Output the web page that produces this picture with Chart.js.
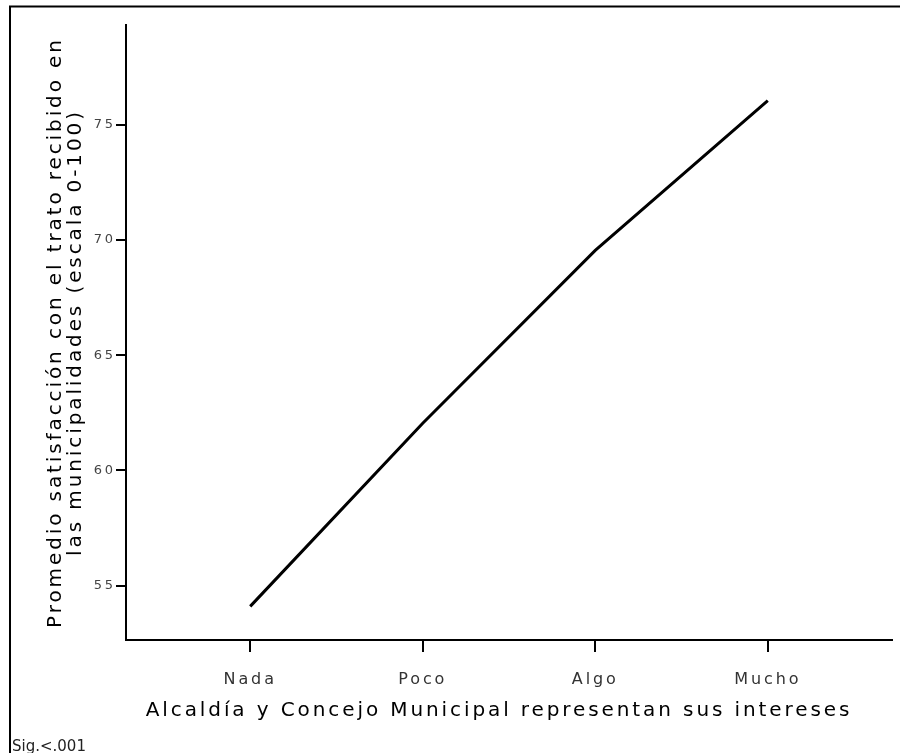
<!DOCTYPE html>
<html>
<head>
<meta charset="utf-8">
<script src="https://cdn.jsdelivr.net/npm/chart.js@4/dist/chart.umd.min.js"></script>
<style>
  html, body { margin: 0; padding: 0; background: #fff; }
  #wrap { width: 900px; height: 753px; }
</style>
</head>
<body>
<div id="wrap"><canvas id="chart" width="900" height="753"></canvas></div>
<script>
// Chart data
const categories = ['Nada', 'Poco', 'Algo', 'Mucho'];
const satisfaction = [54.1, 62.05, 69.55, 76.05];
const yTicks = [55, 60, 65, 70, 75];
const xTitle = 'Alcaldía y Concejo Municipal representan sus intereses';
const yTitle = ['Promedio satisfacción con el trato recibido en', 'las municipalidades (escala 0-100)'];
const footNote = 'Sig.<.001';

const FONT = '"DejaVu Sans", Verdana, sans-serif';

// Frame, spaced lettering, x title (centred on the figure, not the axis) and footnote
const framePlugin = {
    id: 'frame',
    beforeDraw(chart) {
        chart.ctx.letterSpacing = '2.9px';
    },
    afterDraw(chart) {
        const ctx = chart.ctx;
        ctx.save();
        ctx.fillStyle = '#000';
        ctx.font = '20px ' + FONT;
        ctx.textAlign = 'center';
        ctx.textBaseline = 'middle';
        ctx.fillText(xTitle, 499, 711);

        ctx.letterSpacing = '0px';
        ctx.strokeStyle = '#000';
        ctx.lineWidth = 2;
        ctx.strokeRect(10, 6.5, 910, 770);
        ctx.fillStyle = '#222';
        ctx.font = '15px ' + FONT;
        ctx.textAlign = 'left';
        ctx.textBaseline = 'alphabetic';
        ctx.fillText(footNote, 12, 751);
        ctx.restore();
    }
};

new Chart(document.getElementById('chart').getContext('2d'), {
    type: 'line',
    data: {
        datasets: [{
            data: satisfaction.map((v, i) => ({ x: i, y: v })),
            borderColor: '#000',
            borderWidth: 3,
            pointRadius: 0,
            tension: 0,
            fill: false
        }]
    },
    options: {
        responsive: false,
        devicePixelRatio: 1,
        animation: false,
        layout: { padding: { top: 25, right: 8, left: 0, bottom: 0 } },
        plugins: {
            legend: { display: false },
            tooltip: { enabled: false }
        },
        scales: {
            x: {
                type: 'linear',
                min: -0.72,
                max: 3.72,
                afterBuildTicks: s => { s.ticks = categories.map((c, i) => ({ value: i })); },
                afterFit: s => { s.height = 113; },
                ticks: {
                    callback: v => categories[v],
                    color: '#333',
                    font: { family: FONT, size: 16 },
                    padding: 18,
                    maxRotation: 0
                },
                grid: { drawOnChartArea: false, color: '#000', lineWidth: 2, tickLength: 12 },
                border: { color: '#000', width: 2 },
                title: { display: false }
            },
            y: {
                min: 52.64,
                max: 79.33,
                afterBuildTicks: s => { s.ticks = yTicks.map(v => ({ value: v })); },
                afterFit: s => { s.width = 126; },
                ticks: {
                    color: '#444',
                    font: { family: FONT, size: 13 },
                    padding: 0
                },
                grid: { drawOnChartArea: false, color: '#000', lineWidth: 2, tickLength: 10 },
                border: { color: '#000', width: 2 },
                title: {
                    display: true,
                    text: yTitle,
                    color: '#000',
                    font: { family: FONT, size: 20, lineHeight: 1 },
                    padding: { top: 46, bottom: 0 }
                }
            }
        }
    },
    plugins: [framePlugin]
});
</script>
</body>
</html>
